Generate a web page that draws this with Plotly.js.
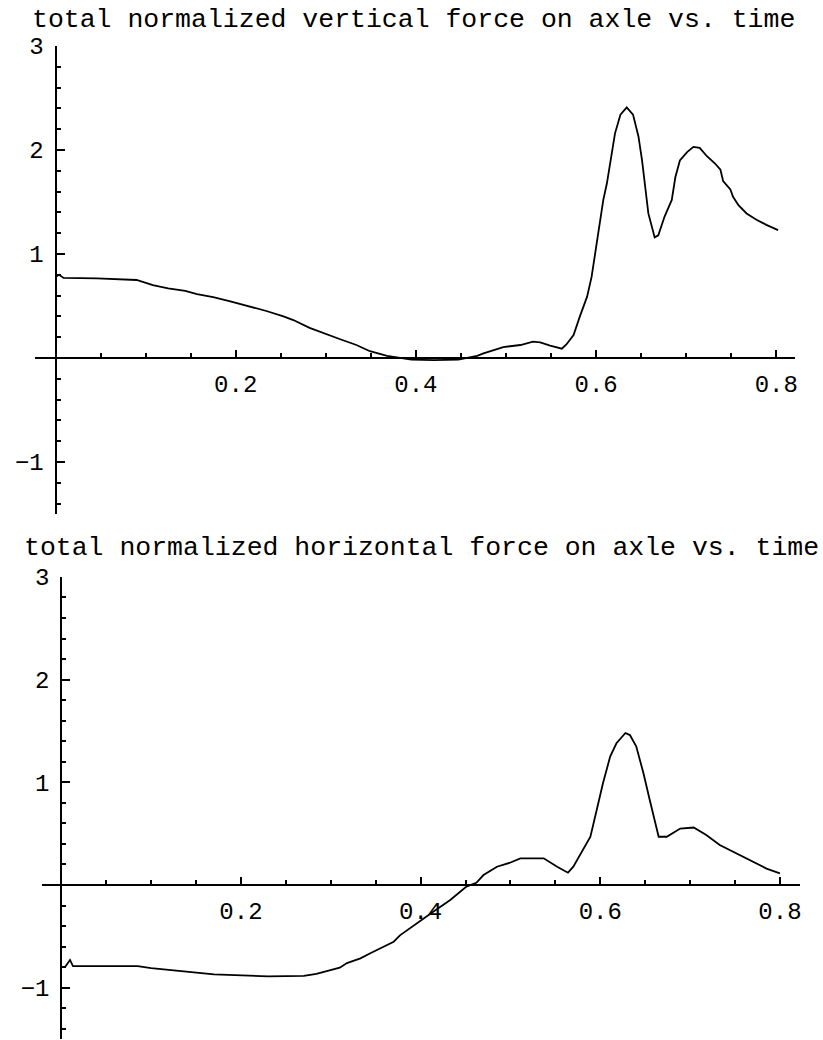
<!DOCTYPE html>
<html><head><meta charset="utf-8">
<script src="https://cdn.plot.ly/plotly-3.0.1.min.js"></script>
<style>html,body{margin:0;padding:0;background:#fff}#chart{width:823px;height:1040px}</style>
</head><body><div id="chart"></div>
<script>
// top panel: total normalized vertical force on axle vs. time
const vertTime = [0, 0.004, 0.009, 0.046, 0.09, 0.108, 0.125, 0.144, 0.157, 0.175, 0.194, 0.216, 0.234, 0.253, 0.264, 0.282, 0.297, 0.316, 0.334, 0.349, 0.368, 0.379, 0.395, 0.42, 0.447, 0.468, 0.475, 0.497, 0.516, 0.530, 0.538, 0.549, 0.562, 0.567, 0.575, 0.582, 0.590, 0.595, 0.599, 0.604, 0.608, 0.612, 0.617, 0.621, 0.627, 0.634, 0.641, 0.647, 0.651, 0.656, 0.658, 0.665, 0.669, 0.676, 0.684, 0.688, 0.693, 0.701, 0.708, 0.715, 0.723, 0.732, 0.738, 0.741, 0.749, 0.752, 0.758, 0.767, 0.778, 0.789, 0.802];
const vertForce = [0.78, 0.80, 0.77, 0.765, 0.75, 0.70, 0.67, 0.645, 0.615, 0.585, 0.545, 0.495, 0.452, 0.40, 0.365, 0.29, 0.24, 0.18, 0.125, 0.065, 0.02, 0.005, -0.015, -0.02, -0.015, 0.02, 0.045, 0.105, 0.125, 0.157, 0.15, 0.12, 0.09, 0.13, 0.22, 0.40, 0.59, 0.78, 1.01, 1.26, 1.52, 1.68, 1.97, 2.16, 2.34, 2.41, 2.34, 2.13, 1.90, 1.52, 1.39, 1.16, 1.18, 1.36, 1.52, 1.74, 1.90, 1.98, 2.03, 2.02, 1.94, 1.87, 1.81, 1.70, 1.62, 1.55, 1.47, 1.39, 1.33, 1.28, 1.23];

// bottom panel: total normalized horizontal force on axle vs. time
const horizTime = [0.004, 0.0097, 0.013, 0.085, 0.10, 0.135, 0.17, 0.23, 0.27, 0.284, 0.299, 0.31, 0.318, 0.333, 0.344, 0.355, 0.370, 0.377, 0.396, 0.414, 0.433, 0.451, 0.462, 0.470, 0.485, 0.4995, 0.511, 0.537, 0.552, 0.564, 0.570, 0.579, 0.589, 0.596, 0.603, 0.611, 0.618, 0.628, 0.633, 0.640, 0.648, 0.655, 0.665, 0.674, 0.689, 0.704, 0.718, 0.733, 0.748, 0.767, 0.785, 0.800];
const horizForce = [-0.80, -0.73, -0.79, -0.79, -0.81, -0.84, -0.87, -0.89, -0.885, -0.865, -0.83, -0.805, -0.76, -0.714, -0.665, -0.617, -0.552, -0.49, -0.37, -0.26, -0.146, -0.016, 0.022, 0.097, 0.178, 0.217, 0.26, 0.26, 0.178, 0.12, 0.178, 0.31, 0.47, 0.73, 0.99, 1.25, 1.38, 1.48, 1.46, 1.35, 1.09, 0.83, 0.47, 0.47, 0.55, 0.56, 0.487, 0.39, 0.324, 0.243, 0.16, 0.114];

const xTickVals = [0.2, 0.4, 0.6, 0.8];
const xTickText = ['0.2', '0.4', '0.6', '0.8'];
const yTickVals = [-1, 1, 2, 3];
const yTickText = ['\u22121', '1', '2', '3'];
const panelTitles = ['total normalized vertical force on axle vs. time',
                     'total normalized horizontal force on axle vs. time'];

const W = 823, H = 1040;
const MONO = 'Liberation Mono, Courier New, monospace';

function xAxis(leftPx, rightPx, zeroPx, scale, zeroYPx) {
  return {
    domain: [leftPx / W, rightPx / W],
    range: [(leftPx - zeroPx) / scale, (rightPx - zeroPx) / scale],
    anchor: 'free', position: 1 - zeroYPx / H,
    showline: true, linewidth: 2, linecolor: '#000',
    showgrid: false, zeroline: false,
    tickmode: 'array', tickvals: xTickVals, ticktext: xTickText,
    ticks: 'inside', ticklen: 7, tickwidth: 2, tickcolor: '#000',
    minor: {tickmode: 'linear', tick0: 0, dtick: 0.05, ticks: 'inside', ticklen: 4, tickwidth: 2, tickcolor: '#000', showgrid: false},
    tickfont: {family: MONO, size: 24, color: '#000'},
    ticklabelstandoff: 4,
    fixedrange: true
  };
}
function yAxis(topPx, zeroYPx, scale, zeroXPx) {
  const bottom = -1.5, top = 3;
  return {
    domain: [1 - (zeroYPx - bottom * scale) / H, 1 - (zeroYPx - top * scale) / H],
    range: [bottom, top],
    anchor: 'free', position: zeroXPx / W,
    showline: true, linewidth: 2, linecolor: '#000',
    showgrid: false, zeroline: false,
    tickmode: 'array', tickvals: yTickVals, ticktext: yTickText,
    ticks: 'inside', ticklen: 8, tickwidth: 2, tickcolor: '#000',
    minor: {tickmode: 'linear', tick0: 0, dtick: 0.2, ticks: 'inside', ticklen: 4, tickwidth: 2, tickcolor: '#000', showgrid: false},
    tickfont: {family: MONO, size: 24, color: '#000'},
    ticklabelstandoff: 6,
    fixedrange: true
  };
}

const data = [
  {x: vertTime, y: vertForce, xaxis: 'x', yaxis: 'y', type: 'scatter', mode: 'lines',
   line: {color: '#000', width: 1.8}, hoverinfo: 'skip', showlegend: false},
  {x: horizTime, y: horizForce, xaxis: 'x2', yaxis: 'y2', type: 'scatter', mode: 'lines',
   line: {color: '#000', width: 1.8}, hoverinfo: 'skip', showlegend: false}
];

const layout = {
  width: W, height: H,
  margin: {l: 0, r: 0, t: 0, b: 0},
  paper_bgcolor: '#fff', plot_bgcolor: 'rgba(0,0,0,0)',
  showlegend: false,
  xaxis: xAxis(35, 795, 55.5, 901, 358),
  yaxis: yAxis(46, 358, 104, 55.5),
  xaxis2: xAxis(42, 800, 61.3, 898.3, 885),
  yaxis2: yAxis(577, 885, 102.7, 61.3),
  annotations: [
    {text: panelTitles[0], xref: 'paper', yref: 'paper', x: 30 / W, y: 1 - 20 / H,
     xanchor: 'left', yanchor: 'middle', showarrow: false,
     font: {family: MONO, size: 26.5, color: '#000'}},
    {text: panelTitles[1], xref: 'paper', yref: 'paper', x: 22 / W, y: 1 - 548 / H,
     xanchor: 'left', yanchor: 'middle', showarrow: false,
     font: {family: MONO, size: 26.5, color: '#000'}}
  ]
};

Plotly.newPlot('chart', data, layout, {displayModeBar: false, staticPlot: true});
</script>
</body></html>
